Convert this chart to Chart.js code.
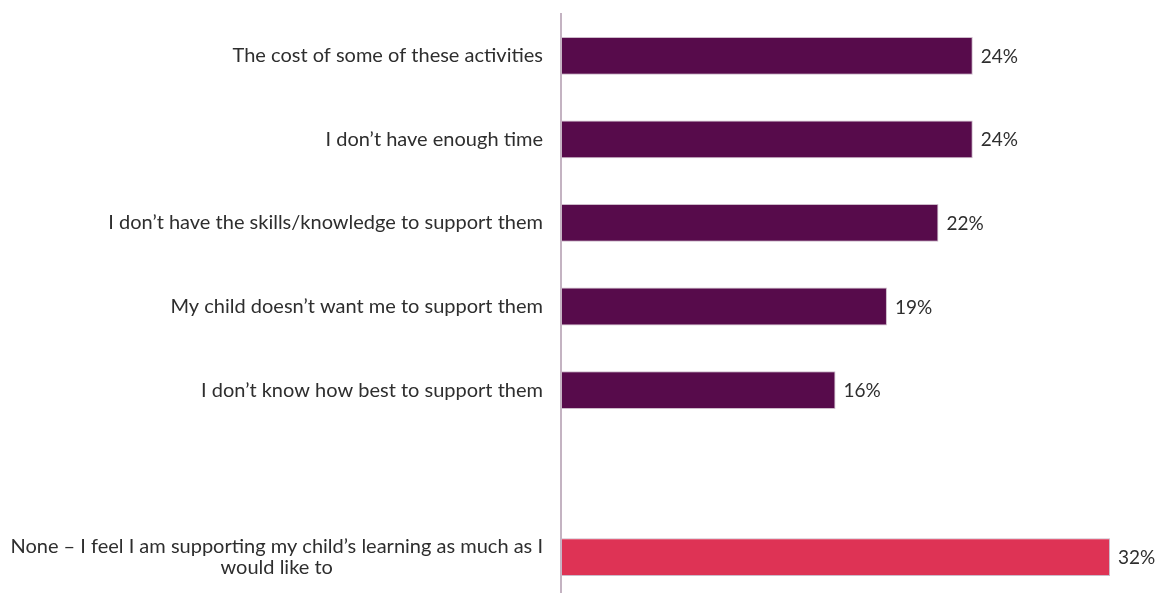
<!DOCTYPE html>
<html>
<head>
<meta charset="utf-8">
<script src="https://cdn.jsdelivr.net/npm/chart.js@4/dist/chart.umd.min.js"></script>
<style>
  html, body { margin: 0; padding: 0; background: #ffffff; overflow: hidden; }
  #wrap { width: 1157px; height: 599px; }
</style>
</head>
<body>
<div id="wrap"><canvas id="chart" width="1157" height="599"></canvas></div>
<script>
// Reasons parents give for not supporting their child's learning more
const categories = [
  ["The cost of some of these activities"],
  ["I don\u2019t have enough time"],
  ["I don\u2019t have the skills/knowledge to support them"],
  ["My child doesn\u2019t want me to support them"],
  ["I don\u2019t know how best to support them"],
  [""],
  ["None \u2013 I feel I am supporting my child\u2019s learning as much as I", "would like to"]
];
const values = [24, 24, 22, 19, 16, null, 32];
const valueLabels = ["24%", "24%", "22%", "19%", "16%", "", "32%"];
const barColors = ["#570B4B", "#570B4B", "#570B4B", "#570B4B", "#570B4B", "#570B4B", "#DE3355"];

const FONT = "Lato, 'Open Sans', sans-serif";

// Draws the category text to the left of the axis and the value text after each bar
const labelPlugin = {
  id: 'labelPlugin',
  afterDraw(chart) {
    const ctx = chart.ctx;
    const yScale = chart.scales.y;
    const meta = chart.getDatasetMeta(0);
    ctx.save();
    ctx.fillStyle = '#2e2e2e';
    ctx.textBaseline = 'middle';
    ctx.font = '20px ' + FONT;
    const rightEdge = chart.chartArea.left - 18;
    const lineH = 21;
    categories.forEach((lines, i) => {
      const y = yScale.getPixelForValue(i);
      const widths = lines.map(l => ctx.measureText(l).width);
      const blockW = Math.max(...widths);
      const cx = rightEdge - blockW / 2;
      ctx.textAlign = 'center';
      lines.forEach((l, k) => {
        const ly = y + (k - (lines.length - 1) / 2) * lineH;
        ctx.fillText(l, cx, ly);
      });
    });
    ctx.font = '19px ' + FONT;
    ctx.textAlign = 'left';
    meta.data.forEach((bar, i) => {
      if (values[i] == null) return;
      ctx.fillText(valueLabels[i], bar.x + 8, bar.y + 1);
    });
    ctx.restore();
  }
};

new Chart(document.getElementById('chart'), {
  type: 'bar',
  data: {
    labels: categories,
    datasets: [{
      data: values,
      backgroundColor: barColors,
      borderColor: 'rgba(200,180,196,0.9)',
      borderWidth: 1,
      borderSkipped: false,
      barPercentage: 1,
      categoryPercentage: 0.452
    }]
  },
  options: {
    indexAxis: 'y',
    responsive: false,
    devicePixelRatio: 1,
    animation: false,
    layout: { padding: { top: 14, right: 47, bottom: 0, left: 0 } },
    plugins: { legend: { display: false }, tooltip: { enabled: false } },
    scales: {
      x: {
        display: false,
        min: 0,
        max: 32
      },
      y: {
        grid: { display: false },
        border: { display: true, color: '#c4b3c2', width: 2 },
        ticks: { display: false },
        afterFit(scale) { scale.width = 561; }
      }
    }
  },
  plugins: [labelPlugin]
});
</script>
</body>
</html>
